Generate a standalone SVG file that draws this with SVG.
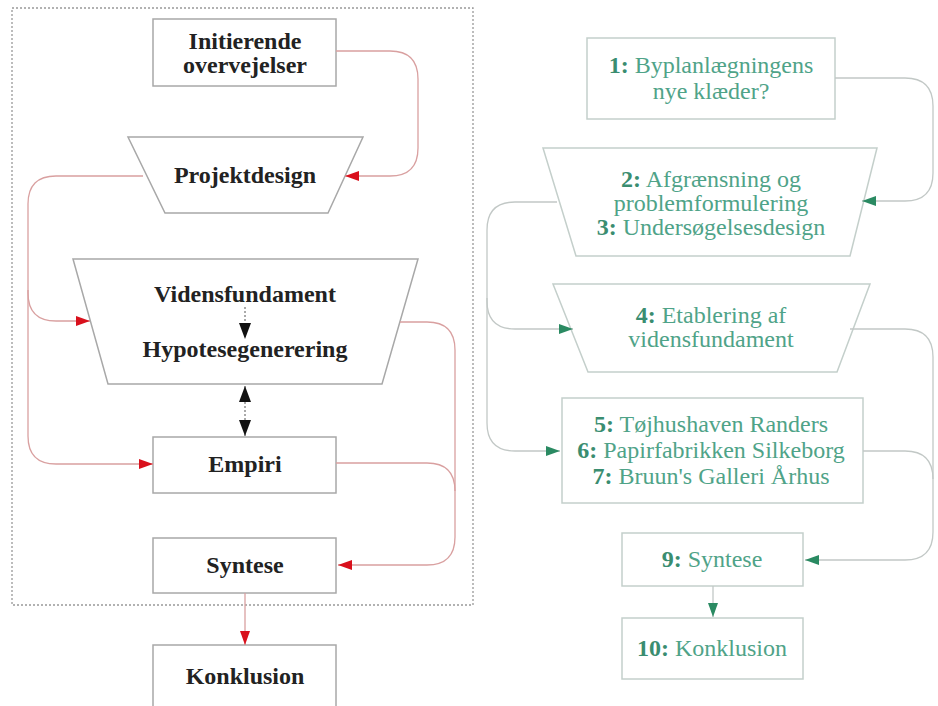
<svg xmlns="http://www.w3.org/2000/svg" width="938" height="706" viewBox="0 0 938 706">
<defs>
<style>
.node{fill:#fff;stroke:#a8a8a8;stroke-width:1.5}
.gnode{fill:#fff;stroke:#c4cfcb;stroke-width:1.5}
.lt{font-family:"Liberation Serif","Times New Roman",serif;font-size:24px;font-weight:bold;fill:#222;text-anchor:middle}
.rt{font-family:"Liberation Serif","Times New Roman",serif;font-size:24px;fill:#4fa388;text-anchor:middle}
.rt tspan.n{font-weight:bold;fill:#3a8d70}
.rc{fill:none;stroke:#d9a0a0;stroke-width:1.3}
.gc{fill:none;stroke:#c2c8c6;stroke-width:1.3}
.bc{fill:none;stroke:#555;stroke-width:1;stroke-dasharray:2 2}
</style>
<marker id="ar" viewBox="0 0 14 10" refX="14" refY="5" markerWidth="14" markerHeight="10" markerUnits="userSpaceOnUse" orient="auto"><path d="M0,0 L14,5 L0,10 Z" fill="#d9101c"/></marker>
<marker id="ag" viewBox="0 0 14 10" refX="14" refY="5" markerWidth="14" markerHeight="10" markerUnits="userSpaceOnUse" orient="auto"><path d="M0,0 L14,5 L0,10 Z" fill="#2a8a62"/></marker>
<marker id="ab" viewBox="0 0 16 12" refX="16" refY="6" markerWidth="16" markerHeight="12" markerUnits="userSpaceOnUse" orient="auto"><path d="M0,0 L16,6 L0,12 Z" fill="#111"/></marker>
<marker id="abs" viewBox="0 0 16 12" refX="0" refY="6" markerWidth="16" markerHeight="12" markerUnits="userSpaceOnUse" orient="auto"><path d="M16,0 L0,6 L16,12 Z" fill="#111"/></marker>
</defs>
<rect width="938" height="706" fill="#fff"/>
<rect id="frame" x="12" y="8" width="461" height="597" fill="none" stroke="#999" stroke-width="1.3" stroke-dasharray="2 2"/>
<g id="n-initierende"><rect class="node" x="153" y="19" width="183" height="67"/><text class="lt" x="245" y="49">Initierende</text><text class="lt" x="245" y="73">overvejelser</text></g>
<g id="n-projektdesign"><polygon class="node" points="128,137 363,137 328,213 165,213"/><text class="lt" x="245" y="183">Projektdesign</text></g>
<g id="n-videns"><polygon class="node" points="73,259 418,259 382,384 108,384"/><text class="lt" x="245" y="302">Vidensfundament</text><text class="lt" x="245" y="357">Hypotesegenerering</text></g>
<g id="n-empiri"><rect class="node" x="153" y="437" width="183" height="56"/><text class="lt" x="245" y="472">Empiri</text></g>
<g id="n-syntese"><rect class="node" x="153" y="538" width="183" height="55"/><text class="lt" x="245" y="573">Syntese</text></g>
<g id="n-konklusion"><rect class="node" x="153" y="645" width="183" height="70"/><text class="lt" x="245" y="684">Konklusion</text></g>
<g id="g1"><rect class="gnode" x="587" y="38" width="248" height="81"/><text class="rt" x="711" y="73"><tspan class="n">1:</tspan> Byplanlægningens</text><text class="rt" x="711" y="99">nye klæder?</text></g>
<g id="g2"><polygon class="gnode" points="543,148 877,148 850,256 576,256"/><text class="rt" x="711" y="187"><tspan class="n">2:</tspan> Afgrænsning og</text><text class="rt" x="711" y="211">problemformulering</text><text class="rt" x="711" y="235"><tspan class="n">3:</tspan> Undersøgelsesdesign</text></g>
<g id="g4"><polygon class="gnode" points="553,284 870,284 837,372 588,372"/><text class="rt" x="711" y="323"><tspan class="n">4:</tspan> Etablering af</text><text class="rt" x="711" y="347">vidensfundament</text></g>
<g id="g5"><rect class="gnode" x="562" y="398" width="301" height="105"/><text class="rt" x="711" y="432"><tspan class="n">5:</tspan> Tøjhushaven Randers</text><text class="rt" x="711" y="458"><tspan class="n">6:</tspan> Papirfabrikken Silkeborg</text><text class="rt" x="711" y="484"><tspan class="n">7:</tspan> Bruun's Galleri Århus</text></g>
<g id="g9"><rect class="gnode" x="622" y="533" width="181" height="53"/><text class="rt" x="712" y="567"><tspan class="n">9:</tspan> Syntese</text></g>
<g id="g10"><rect class="gnode" x="622" y="618" width="181" height="61"/><text class="rt" x="712" y="656"><tspan class="n">10:</tspan> Konklusion</text></g>
<g id="connectors">
<path class="rc" d="M336,51 H390 Q418,51 418,79 V148 Q418,176 390,176 H345" marker-end="url(#ar)"/>
<path class="rc" d="M143,176 H56 Q28,176 28,204 V293 Q28,321 56,321 H90" marker-end="url(#ar)"/>
<path class="rc" d="M28,290 V436 Q28,464 56,464 H153" marker-end="url(#ar)"/>
<path class="rc" d="M400,322 H427 Q455,322 455,350 V537 Q455,565 427,565 H338" marker-end="url(#ar)"/>
<path class="rc" d="M336,463 H427 Q455,463 455,491"/>
<path class="rc" d="M245,593 V645" marker-end="url(#ar)"/>
<path class="bc" d="M245,307 V339" marker-end="url(#ab)"/>
<path class="bc" d="M245,386 V436" marker-start="url(#abs)" marker-end="url(#ab)"/>
<path class="gc" d="M835,78 H905 Q933,78 933,106 V173 Q933,201 905,201 H862" marker-end="url(#ag)"/>
<path class="gc" d="M557,202 H515 Q487,202 487,230 V301 Q487,329 515,329 H573" marker-end="url(#ag)"/>
<path class="gc" d="M487,298 V423 Q487,451 515,451 H560" marker-end="url(#ag)"/>
<path class="gc" d="M850,329 H905 Q933,329 933,357 V532 Q933,560 905,560 H805" marker-end="url(#ag)"/>
<path class="gc" d="M863,451 H905 Q933,451 933,479"/>
<path class="gc" d="M713,586 V617" marker-end="url(#ag)"/>
</g>
</svg>
